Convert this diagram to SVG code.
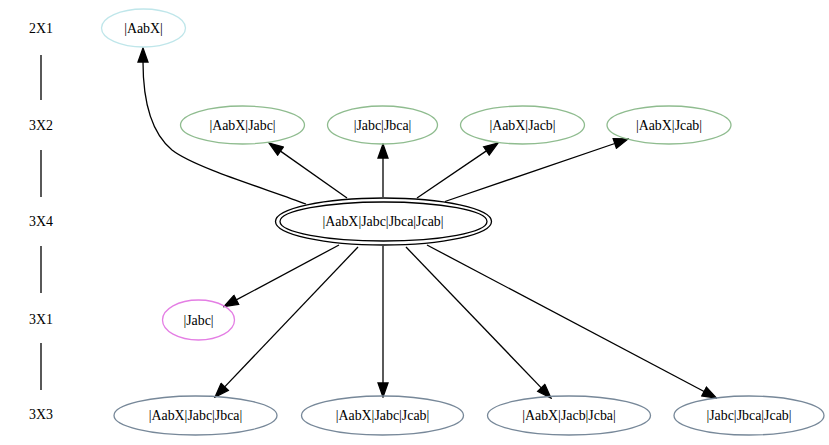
<svg xmlns="http://www.w3.org/2000/svg" width="829" height="445" viewBox="0 0 829 445">
<style>
text{font-family:"Liberation Serif","Times New Roman",serif;font-size:13.9px;fill:#000;text-anchor:middle}
.e{fill:none;stroke:#000;stroke-width:1.3}
.a{marker-end:url(#arr)}
.n{fill:none;stroke-width:1.3}
.cy{stroke:#bfe6ea}
.gr{stroke:#8fbc8f}
.vi{stroke:#e47ee4}
.sl{stroke:#778899}
.bk{stroke:#000}
</style>
<defs>
<marker id="arr" markerUnits="userSpaceOnUse" markerWidth="16" markerHeight="12" refX="1" refY="6" orient="auto">
<path d="M1,1 L15,6 L1,11 Z" fill="#000" stroke="#000" stroke-width="1.3"/>
</marker>
</defs>
<rect width="829" height="445" fill="#fff"/>
<g id="ranks">
<text x="41" y="32.5">2X1</text>
<text x="41" y="129.5">3X2</text>
<text x="41" y="226">3X4</text>
<text x="41" y="323.5">3X1</text>
<text x="41" y="418.5">3X3</text>
<path class="e" d="M41,55 V100 M41,150 V197 M41,246 V293 M41,343 V390"/>
</g>
<g id="connectors">
<path class="e a" d="M306,204 C270,190 195,168 172,150 C148,130 143,95 143,62"/>
<path class="e a" d="M347,198 L280.5,151.1"/>
<path class="e a" d="M383,197 L383,158"/>
<path class="e a" d="M417,198 L486.4,150.9"/>
<path class="e a" d="M445,201.5 L614.8,143.5"/>
<path class="e a" d="M339,245 L236.3,299.9"/>
<path class="e a" d="M358,247 L224.7,386.9"/>
<path class="e a" d="M383,246 L383,383"/>
<path class="e a" d="M406,247 L541.3,387.9"/>
<path class="e a" d="M427,245 L704.1,391.5"/>
</g>
<g id="n_AabX">
<ellipse class="n cy" cx="143.5" cy="28" rx="42" ry="19"/>
<text x="143.5" y="32.5">|AabX|</text>
</g>
<g id="n_AabX_Jabc">
<ellipse class="n gr" cx="242.5" cy="125" rx="62" ry="19"/>
<text x="242.5" y="129.5">|AabX|Jabc|</text>
</g>
<g id="n_Jabc_Jbca">
<ellipse class="n gr" cx="382.5" cy="125" rx="55" ry="19"/>
<text x="382.5" y="129.5">|Jabc|Jbca|</text>
</g>
<g id="n_AabX_Jacb">
<ellipse class="n gr" cx="522.5" cy="125" rx="62" ry="19"/>
<text x="522.5" y="129.5">|AabX|Jacb|</text>
</g>
<g id="n_AabX_Jcab">
<ellipse class="n gr" cx="669" cy="125" rx="62" ry="19"/>
<text x="669" y="129.5">|AabX|Jcab|</text>
</g>
<g id="n_center">
<ellipse class="n bk" cx="383.5" cy="221.5" rx="108" ry="23.5"/>
<ellipse class="n bk" cx="383.5" cy="221.5" rx="103.5" ry="19.5"/>
<text x="383" y="226">|AabX|Jabc|Jbca|Jcab|</text>
</g>
<g id="n_Jabc">
<ellipse class="n vi" cx="198.5" cy="320" rx="36" ry="20"/>
<text x="198.5" y="324.5">|Jabc|</text>
</g>
<g id="n_AabX_Jabc_Jbca">
<ellipse class="n sl" cx="195.5" cy="415.5" rx="81.5" ry="19.5"/>
<text x="195.5" y="420">|AabX|Jabc|Jbca|</text>
</g>
<g id="n_AabX_Jabc_Jcab">
<ellipse class="n sl" cx="382.5" cy="415.5" rx="81" ry="19.5"/>
<text x="382.5" y="420">|AabX|Jabc|Jcab|</text>
</g>
<g id="n_AabX_Jacb_Jcba">
<ellipse class="n sl" cx="569" cy="415.5" rx="81.5" ry="19.5"/>
<text x="569" y="420">|AabX|Jacb|Jcba|</text>
</g>
<g id="n_Jabc_Jbca_Jcab">
<ellipse class="n sl" cx="749" cy="415.5" rx="75" ry="19.5"/>
<text x="749" y="420">|Jabc|Jbca|Jcab|</text>
</g>
</svg>
